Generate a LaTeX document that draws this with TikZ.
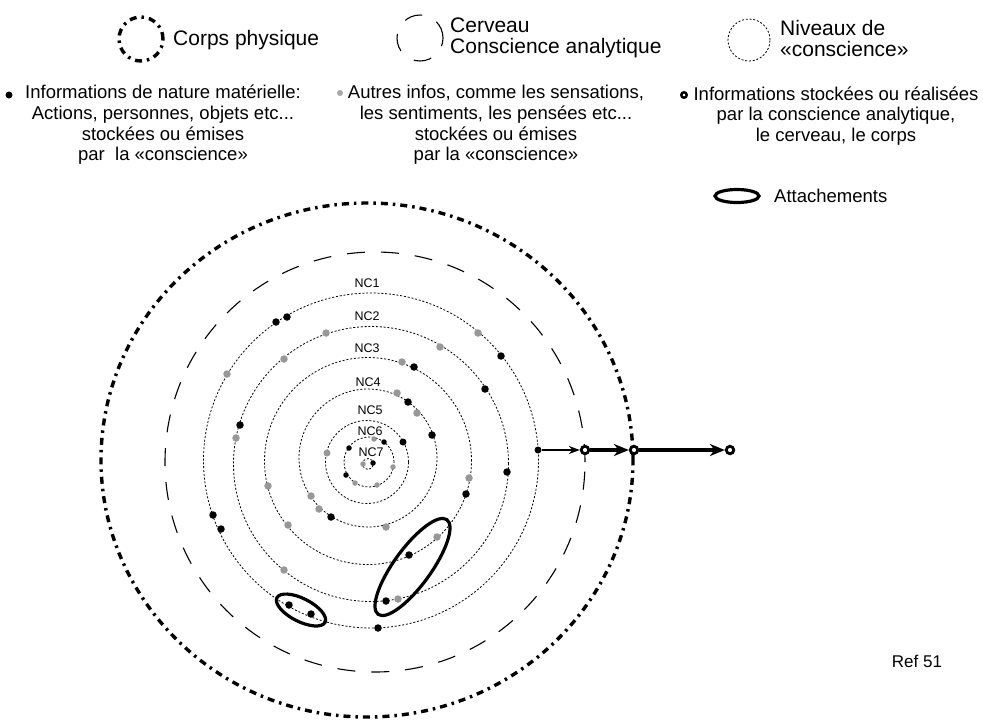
\documentclass[tikz,border=0pt]{standalone}
\usepackage{fontspec}
\setmainfont{Liberation Sans}
\usepackage{xcolor}
\usetikzlibrary{arrows.meta,positioning,shapes.geometric}
\definecolor{infogray}{RGB}{152,152,152}

\begin{document}
\begin{tikzpicture}[
  x=1pt, y=-1pt,
  corps/.style={line width=3.4pt, dash pattern=on 7pt off 5pt on 2.5pt off 5pt},
  cerveau/.style={line width=1.1pt, dash pattern=on 18pt off 16pt},
  niveau/.style={line width=0.8pt, dash pattern=on 2pt off 1.8pt},
  infodot/.style={circle, fill=#1, inner sep=0pt, minimum size=7.5pt},
  smalldot/.style={circle, fill=#1, inner sep=0pt, minimum size=5.5pt},
  hollow/.style={circle, draw, fill=white, line width=2.8pt, inner sep=0pt, minimum size=7.5pt},
  attache/.style={ellipse, draw, line width=3.2pt, inner sep=0pt},
  nc/.style={font=\fontsize{12.5}{14}\selectfont, inner sep=0pt},
  titre/.style={font=\fontsize{21}{21}\selectfont, align=left, anchor=west, inner sep=0pt},
  info/.style={font=\fontsize{18.5}{20.7}\selectfont, align=center, inner sep=0pt},
]
\useasboundingbox (0,0) rectangle (983,721);

%--- LEGEND: TOP ROW ---
\node[circle, draw, corps, minimum size=44pt, inner sep=0pt] (lcorps) at (141,39) {};
\node[titre] (tcorps) at (173,40) {Corps physique};
\node[circle, draw, cerveau, minimum size=46pt, inner sep=0pt] (lcerv) at (420,38) {};
\node[titre] (tcerv) at (450,38) {Cerveau\\Conscience analytique};
\node[circle, draw, niveau, minimum size=42pt, inner sep=0pt] (lniv) at (749,40) {};
\node[titre] (tniv) at (780,38) {Niveaux de\\«conscience»};

%--- LEGEND: INFOS ---
\node[infodot=black, minimum size=7pt] (dmat) at (9,95) {};
\node[info] (tmat) at (163,125)
  {Informations de nature matérielle:\\Actions, personnes, objets etc...\\stockées ou émises\\par\ \ la «conscience»};
\node[infodot=infogray!85, minimum size=6pt] (dsens) at (340,93) {};
\node[info] (tsens) at (496,125)
  {Autres infos, comme les sensations,\\les sentiments, les pensées etc...\\stockées ou émises\\par la «conscience»};
\node[hollow, line width=2.4pt, minimum size=5.5pt] (dstock) at (684,95) {};
\node[info] (tstock) at (836,116)
  {Informations stockées ou réalisées\\par la conscience analytique,\\le cerveau, le corps};

\node[attache, minimum width=44pt, minimum height=13pt] (latt) at (737,196) {};
\node[info, anchor=west] (tatt) at (774,196) {Attachements};

%--- CIRCLES ---
\draw[corps]   (367,460) ellipse [x radius=266pt, y radius=257pt];
\draw[cerveau] (375,462) circle [radius=210pt];
\draw[niveau]  (371,460.5) circle [radius=167.5pt];
\draw[niveau]  (371,464) circle [radius=137.5pt];
\draw[niveau]  (368,461) circle [radius=103.5pt];
\draw[niveau]  (368,458) circle [radius=69pt];
\draw[niveau]  (367,462) circle [radius=41.5pt];
\draw[niveau]  (369,462) circle [radius=25pt];
\draw[niveau]  (368,464) circle [radius=5.5pt];

%--- LEVEL LABELS ---
\node[nc] (nc1) at (367,283) {NC1};
\node[nc] (nc2) at (367,316) {NC2};
\node[nc] (nc3) at (367,348) {NC3};
\node[nc] (nc4) at (368,382) {NC4};
\node[nc] (nc5) at (370,410) {NC5};
\node[nc] (nc6) at (370,431) {NC6};
\node[nc] (nc7) at (371,452) {NC7};

%--- INFORMATIONS ON THE LEVELS ---
\foreach \p [count=\i] in {(276,322),(287,317),(501,356),(213,515),(221,529),
    (289,605),(311,614),(378,628),(485,389),(240,425),(507,472),(386,601),
    (414,367),(466,494),(409,555),(408,402),(432,435),(331,517)}
  \node[infodot=black] (mb\i) at \p {};
\foreach \p [count=\i] in {(478,333),(227,374),(326,333),(284,359),(440,347),
    (236,438),(284,570),(398,599),(402,362),(268,486),(469,478),(437,537),
    (288,525),(397,393),(417,413),(311,496),(319,509),(386,527)}
  \node[infodot=infogray] (mg\i) at \p {};
\node[infodot=black, minimum size=7pt] (sb1) at (403,442) {};
\node[infodot=infogray, minimum size=7pt] (sg1) at (327,453) {};
\foreach \p [count=\i] in {(384,442),(349,448),(346,475),(373,463)}
  \node[smalldot=black] (sb\i) at \p {};
\foreach \p [count=\i] in {(374,439),(393,467),(355,483),(377,485),(363,464)}
  \node[smalldot=infogray] (sg\i) at \p {};

%--- ATTACHMENTS ---
\node[attache, minimum width=54pt, minimum height=23pt, rotate=-27] (att1) at (301,610) {};
\node[attache, minimum width=117pt, minimum height=37pt, rotate=54] (att2) at (412.5,567) {};

%--- OUT TO THE BODY ---
\node[infodot=black, minimum size=7pt] (src) at (538,450) {};
\node[hollow] (h1) at (585,450) {};
\node[hollow] (h2) at (634,450) {};
\node[hollow] (h3) at (730,450) {};
\draw[line width=1.5pt, -{Stealth[length=11pt, width=8pt]}] (src) -- (h1);
\draw[line width=3.6pt, -{Stealth[length=15pt, width=12pt]}] (h1) -- (h2);
\draw[line width=3.6pt, -{Stealth[length=15pt, width=12pt]}] (h2) -- (h3);

\node[font=\fontsize{17}{17}\selectfont] (ref) at (917,661) {Ref 51};
\end{tikzpicture}
\end{document}
